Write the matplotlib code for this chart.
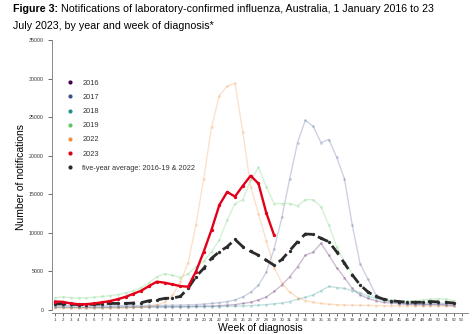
import matplotlib
matplotlib.use('Agg')
import matplotlib.pyplot as plt
from matplotlib.lines import Line2D

plt.rcParams['font.family'] = ['Liberation Sans', 'DejaVu Sans']

weeks = list(range(1, 53))
weeks_2023 = list(range(1, 30))

# weekly notifications
y2016 = [400, 380, 350, 330, 330, 340, 350, 360, 370, 380,
         390, 400, 410, 420, 420, 430, 440, 450, 470, 500,
         520, 560, 620, 700, 850, 1000, 1300, 1700, 2400, 3250,
         4300, 5600, 7100, 7500, 8650, 7100, 5500, 4200, 2800, 1950,
         1500, 1200, 1000, 900, 800, 750, 700, 700, 750, 750,
         700, 600]
y2017 = [600, 580, 550, 530, 520, 520, 530, 540, 550, 560,
         570, 580, 590, 600, 600, 620, 640, 660, 700, 760,
         850, 950, 1100, 1300, 1700, 2300, 3200, 4900, 7900, 12000,
         17000, 21700, 24600, 23800, 21700, 22100, 19800, 17000, 11000, 6000,
         4000, 2000, 1400, 1100, 900, 800, 750, 700, 700, 650,
         600, 500]
y2018 = [350, 340, 320, 300, 300, 300, 310, 320, 330, 340,
         350, 350, 360, 370, 380, 380, 390, 400, 410, 420,
         430, 450, 470, 500, 540, 580, 630, 700, 800, 900,
         1100, 1400, 1650, 1950, 2500, 3050, 2900, 2800, 2500, 2250,
         1800, 1500, 1250, 1100, 1000, 950, 900, 900, 900, 900,
         850, 800]
y2019 = [1600, 1700, 1600, 1550, 1600, 1650, 1750, 1850, 2000, 2200,
         2500, 2900, 3500, 4300, 4700, 4500, 4200, 4700, 5600, 6300,
         7550, 9100, 11650, 13800, 14300, 16800, 18500, 16000, 13800, 13800,
         13800, 13500, 14300, 14300, 13400, 11000, 8200, 6250, 4700, 3300,
         2200, 1700, 1400, 1250, 1150, 1150, 1200, 1300, 1400, 1450,
         1400, 1200]
y2022 = [250, 230, 220, 200, 200, 200, 210, 220, 240, 260,
         300, 350, 450, 650, 1000, 1900, 3600, 6100, 11000, 17000,
         23700, 27800, 29000, 29400, 23100, 16000, 12500, 9000, 5500, 3500,
         2300, 1600, 1200, 1000, 850, 750, 700, 650, 620, 600,
         600, 580, 560, 550, 550, 540, 530, 520, 520, 510,
         500, 480]
y2023 = [1100, 1050, 850, 750, 750, 850, 1000, 1150, 1400, 1700,
         2100, 2500, 3100, 3670, 3540, 3320, 3100, 3020, 4960, 7550,
         10400, 13600, 15300, 14700, 16100, 17400, 16400, 12600, 9700]
y_avg = [800, 800, 750, 700, 700, 750, 800, 850, 850, 850,
         900, 950, 1200, 1300, 1500, 1550, 1750, 2800, 4300, 5400,
         6700, 7550, 8200, 9150, 8200, 7600, 7100, 6450, 5800, 6550,
         7700, 8850, 9850, 9800, 9300, 8850, 7550, 6050, 4550, 3250,
         2350, 1750, 1400, 1200, 1100, 1000, 1000, 1000, 1100, 1050,
         1000, 900]

c2016 = '#440154'
c2017 = '#3b528b'
c2018 = '#21918c'
c2019 = '#5ec962'
c2022 = '#f28e3c'
c2023 = '#e3001b'
cavg = '#2b2b2b'

fig = plt.figure(figsize=(4.74, 3.34), dpi=100)
ax = fig.add_axes([52/474, 21/334, 416/474, 273/334])

faded = [(y2016, c2016), (y2017, c2017), (y2018, c2018), (y2019, c2019), (y2022, c2022)]
for vals, col in faded:
    ax.plot(weeks, vals, color=col, alpha=0.26, lw=1.0, marker='o', ms=2.0, mew=0)

ax.plot(weeks, y_avg, color=cavg, lw=2.0, dashes=(4, 2.2), marker='o', ms=2.4, mew=0)
ax.plot(weeks_2023, y2023, color=c2023, lw=1.7, marker='o', ms=2.4, mew=0)

ax.set_xlim(0.6, 53.8)
ax.set_ylim(-390, 35000)
ax.set_xticks(range(1, 54))
ax.set_xticklabels([str(w) for w in range(1, 54)], fontsize=3.2)
ax.set_yticks(range(0, 35001, 5000))
ax.set_yticklabels([str(v) for v in range(0, 35001, 5000)], fontsize=3.8)
ax.tick_params(axis='x', length=2, width=0.5, pad=1.5, colors='#333333')
ax.tick_params(axis='y', length=3, width=0.5, pad=3, colors='#333333')
for s in ['top', 'right']:
    ax.spines[s].set_visible(False)
for s in ['left', 'bottom']:
    ax.spines[s].set_color('#888888')
    ax.spines[s].set_linewidth(0.7)
ax.spines['left'].set_bounds(0, 35000)

ax.set_xlabel('Week of diagnosis', fontsize=7.5, labelpad=1)
ax.set_ylabel('Number of notifications', fontsize=7.5, labelpad=2)

labels = ['2016', '2017', '2018', '2019', '2022', '2023', 'five-year average: 2016-19 & 2022']
cols = [c2016, c2017, c2018, c2019, c2022, c2023, cavg]
handles = [Line2D([], [], ls='none', marker='o', ms=3.0, mew=0, color=c) for c in cols]
leg = ax.legend(handles, labels, loc='upper left', bbox_to_anchor=(63/474, 1 - 76/334),
                bbox_transform=fig.transFigure, frameon=False, fontsize=5.3,
                handlelength=1.0, handletextpad=1.1, labelspacing=0.95, borderpad=0)
for t in leg.get_texts():
    t.set_color('#333333')

# title: bold prefix then normal text
t1 = fig.text(13/474, 1 - 12/334, 'Figure 3:', fontsize=7.7, fontweight='bold', va='baseline')
fig.canvas.draw()
bb = t1.get_window_extent()
fig.text(bb.x1/474 + 3/474, 1 - 12/334, 'Notifications of laboratory-confirmed influenza, Australia, 1 January 2016 to 23',
         fontsize=7.7, va='baseline')
fig.text(13/474, 1 - 29/334, 'July 2023, by year and week of diagnosis*', fontsize=7.7, va='baseline')

fig.savefig('out.png', dpi=100)
